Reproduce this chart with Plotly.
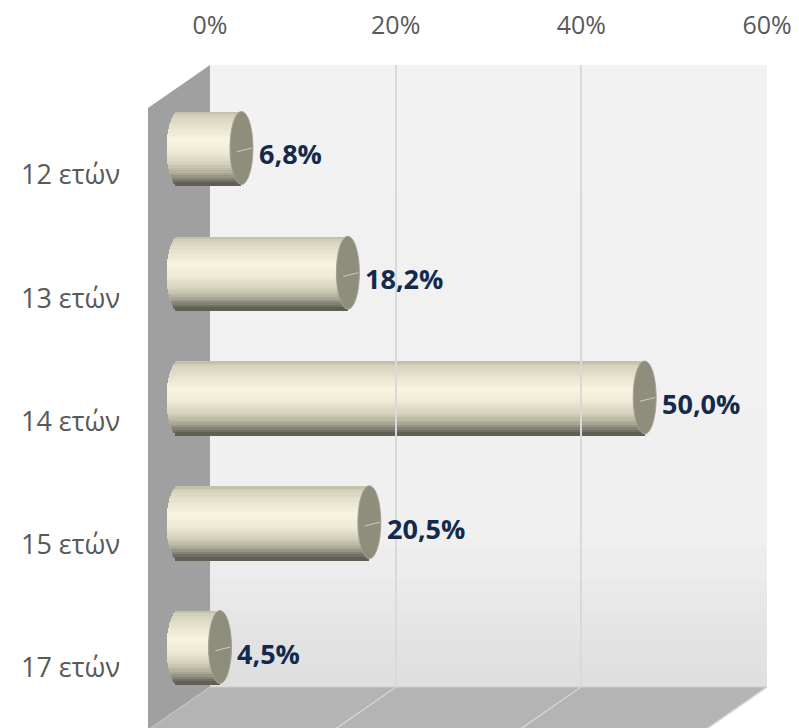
import plotly.graph_objects as go

# ---- data ----
categories = ["12 ετών", "13 ετών", "14 ετών", "15 ετών", "17 ετών"]
values = [6.8, 18.2, 50.0, 20.5, 4.5]
value_labels = ["6,8%", "18,2%", "50,0%", "20,5%", "4,5%"]
tick_values = [0, 20, 40, 60]
tick_labels = ["0%", "20%", "40%", "60%"]

W, H = 799, 728
FONT = "Open Sans"


def px(x, y):
    return x / W, 1 - y / H


def hexmix(c1, c2, t):
    a = [int(c1[i:i + 2], 16) for i in (1, 3, 5)]
    b = [int(c2[i:i + 2], 16) for i in (1, 3, 5)]
    return "#" + "".join(f"{round(a[k] + (b[k] - a[k]) * t):02x}" for k in range(3))


def grad(stops, t):
    for (t0, c0), (t1, c1) in zip(stops, stops[1:]):
        if t0 <= t <= t1:
            return hexmix(c0, c1, (t - t0) / (t1 - t0) if t1 > t0 else 0)
    return stops[-1][1]


ypos = list(range(len(categories)))
THICK = 0.585      # bar thickness in category units
CAP = 1.23         # half width of end ellipse in % units
N = 30
cyl_stops = [(0.0, "#bdbaa6"), (0.06, "#d6d3bd"), (0.38, "#f8f4e1"), (0.55, "#eeead6"),
             (0.72, "#d2cfba"), (0.84, "#aeab99"), (0.93, "#7d7b6d"), (1.0, "#57564c")]

fig = go.Figure()

for k in range(N):
    u = -1 + (2 * k + 1) / N
    s = (1 - u * u) ** 0.5
    base = [-CAP * s for _ in values]
    lens = [v + CAP * s for v in values]
    fig.add_trace(go.Bar(
        x=lens, y=ypos, base=base, orientation="h",
        width=THICK / N * 1.6, offset=-THICK / 2 + k * THICK / N,
        marker=dict(color=grad(cyl_stops, (k + 0.5) / N), line=dict(width=0)),
        hoverinfo="skip", showlegend=False, xaxis="x", yaxis="y"))

# dummy trace for wall axes
fig.add_trace(go.Scatter(x=[0, 60], y=[0, 1], mode="markers", marker=dict(opacity=0),
                         hoverinfo="skip", showlegend=False, xaxis="x2", yaxis="y2"))
# category label axis
fig.add_trace(go.Scatter(x=[0] * len(ypos), y=ypos, mode="markers", marker=dict(opacity=0),
                         hoverinfo="skip", showlegend=False, xaxis="x", yaxis="y3"))

shapes = []
# back wall gradient
wall_stops = [(0.0, "#f2f2f2"), (0.75, "#f0f0f0"), (1.0, "#dedede")]
M = 40
for k in range(M):
    y0 = 65 + (687 - 65) * k / M
    y1 = 65 + (687 - 65) * (k + 1) / M + 0.6
    x0p, y0p = px(210, y0)
    x1p, y1p = px(767, y1)
    shapes.append(dict(type="rect", xref="paper", yref="paper", x0=x0p, x1=x1p, y0=y1p, y1=y0p,
                       fillcolor=grad(wall_stops, (k + 0.5) / M), line=dict(width=0), layer="below"))


def poly(pts, fill, line_color=None, lw=0, layer="below"):
    path = "M " + " L ".join(f"{px(x, y)[0]},{px(x, y)[1]}" for x, y in pts) + " Z"
    return dict(type="path", xref="paper", yref="paper", path=path, fillcolor=fill,
                line=dict(width=lw, color=line_color or fill), layer=layer)


def seg(p0, p1, color, lw, layer="below"):
    a, b = px(*p0), px(*p1)
    return dict(type="line", xref="paper", yref="paper", x0=a[0], y0=a[1], x1=b[0], y1=b[1],
                line=dict(color=color, width=lw), layer=layer)


# side wall
shapes.append(poly([(148, 108), (210, 65), (210, 687), (148, 730)], "#a0a0a0"))
# floor
shapes.append(poly([(210, 687), (767, 687), (705, 730), (148, 730)], "#b4b4b4"))
for xb in (396, 581, 767):
    shapes.append(seg((xb, 687), (xb - 62, 730), "#d4d4d4", 1.5))
shapes.append(seg((210, 687), (148, 730), "#c4c4c4", 1.2))
shapes.append(seg((210, 687), (767, 687), "#d0d0d0", 1.2))

# end caps (ellipse faces) at value end
for v, y in zip(values, ypos):
    shapes.append(dict(type="circle", xref="x", yref="y", x0=v - CAP, x1=v + CAP,
                       y0=y - THICK / 2, y1=y + THICK / 2, fillcolor="#8f8d7c",
                       line=dict(color="#a3a190", width=1), layer="above"))
    # small leader line
    shapes.append(dict(type="line", xref="x", yref="y", x0=v - CAP * 0.4, x1=v + CAP * 0.9,
                       y0=y + 0.03, y1=y, line=dict(color="#c9c9c0", width=1.2), layer="above"))

annotations = []
for v, y, t in zip(values, ypos, value_labels):
    annotations.append(dict(x=v + CAP, y=y, xref="x", yref="y", text=f"<b>{t}</b>",
                            showarrow=False, xanchor="left", yanchor="middle",
                            xshift=4, yshift=-6,
                            font=dict(family=FONT, size=27, color="#132a4c")))

PXPCT = 560 / 60   # pixels per percent on the bar axis
fig.update_layout(
    width=W, height=H,
    margin=dict(l=0, r=0, t=0, b=0, autoexpand=False),
    paper_bgcolor="white", plot_bgcolor="rgba(0,0,0,0)",
    barmode="overlay", bargap=0,
    shapes=shapes, annotations=annotations,
    xaxis=dict(domain=[(178 - 3 * PXPCT) / W, 738 / W], range=[-3, 60], visible=False, anchor="y"),
    yaxis=dict(domain=[1 - 709.4 / H, 1 - 85.6 / H], range=[4.5, -0.5], visible=False, anchor="x"),
    xaxis2=dict(domain=[210 / W, 767 / W], range=[0, 60], anchor="y2", side="top",
                tickvals=tick_values, ticktext=tick_labels, showgrid=True,
                gridcolor="#d9d9d9", gridwidth=2, zeroline=False, showline=False, ticks="",
                ticklabelstandoff=25,
                tickfont=dict(family=FONT, size=25, color="#595959")),
    yaxis2=dict(domain=[1 - 687 / H, 1 - 65 / H], range=[0, 1], visible=False, anchor="x2"),
    yaxis3=dict(range=[4.336, -0.725], overlaying="y",
                anchor="free", position=120 / W, tickvals=ypos, ticktext=categories,
                showgrid=False, zeroline=False, showline=False, ticks="",
                tickfont=dict(family=FONT, size=27, color="#595959")),
)

fig.write_html("out.html", config={"displayModeBar": False},
               post_script="document.body.style.margin='0';")
